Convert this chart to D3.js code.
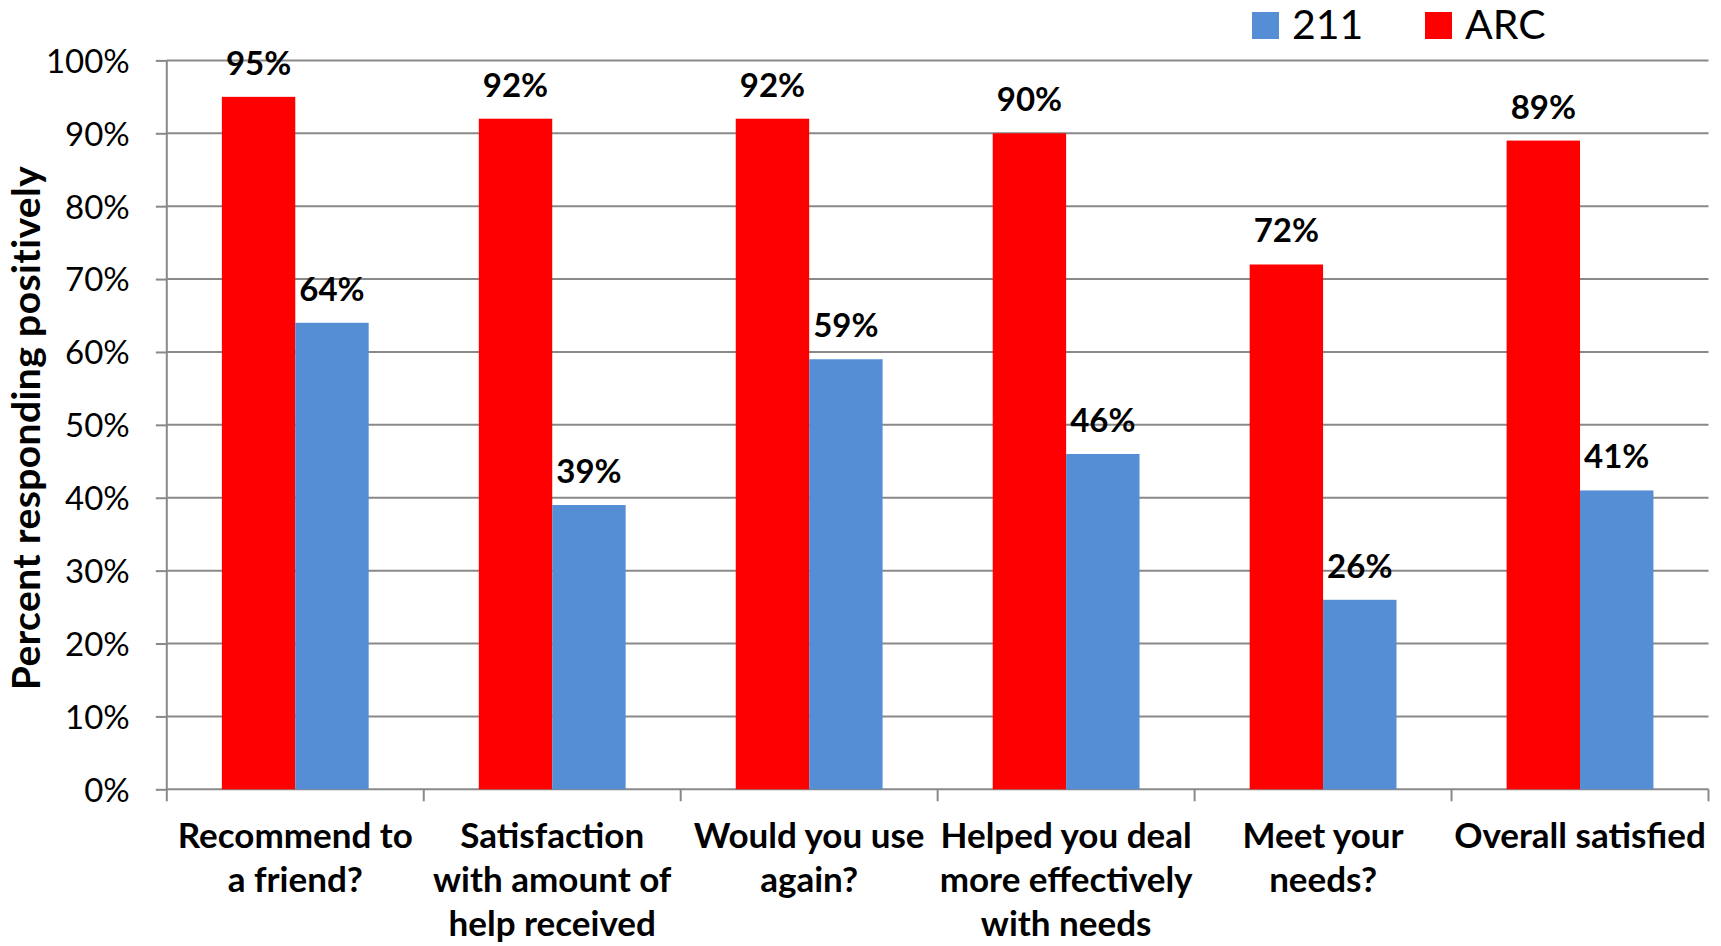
<!DOCTYPE html>
<html>
<head>
<meta charset="utf-8">
<script src="https://cdn.jsdelivr.net/npm/d3@7/dist/d3.min.js"></script>
<style>
  html, body { margin: 0; padding: 0; background: #fff; }
  svg { display: block; font-family: Lato, "Open Sans", sans-serif; }
</style>
</head>
<body>
<svg id="chart" width="1721" height="946"></svg>
<script>
// Survey questions (x categories); "\n" marks line breaks in the axis labels
const categories = [
  "Recommend to\na friend?",
  "Satisfaction\nwith amount of\nhelp received",
  "Would you use\nagain?",
  "Helped you deal\nmore effectively\nwith needs",
  "Meet your\nneeds?",
  "Overall satisfied"
];
const seriesNames = ["ARC", "211"];
const arcValues = [95, 92, 92, 90, 72, 89];
const values211 = [64, 39, 59, 46, 26, 41];
const yTicks = [0, 10, 20, 30, 40, 50, 60, 70, 80, 90, 100];
const legendOrder = ["211", "ARC"];
const colors = { "ARC": "#FF0000", "211": "#558ED5" };

const svg = d3.select("#chart");
const plotLeft = 166.8, plotRight = 1708.5, plotTop = 60.4, plotBottom = 789.3;
const gridColor = "#898989";

const x = d3.scaleBand().domain(d3.range(categories.length)).range([plotLeft, plotRight]).padding(0);
const xs = d3.scaleBand().domain(seriesNames).range([0, x.bandwidth()]).paddingInner(0).paddingOuter(0.75);
const y = d3.scaleLinear().domain([0, 100]).range([plotBottom, plotTop]);

// Horizontal gridlines
svg.append("g").selectAll("line").data(yTicks.filter(d => d > 0)).join("line")
  .attr("x1", plotLeft).attr("x2", plotRight)
  .attr("y1", d => y(d)).attr("y2", d => y(d))
  .attr("stroke", gridColor).attr("stroke-width", 2);

// Y axis
const yAxis = svg.append("g").attr("transform", `translate(${plotLeft},0)`)
  .call(d3.axisLeft(y).tickValues(yTicks).tickFormat(d => d + "%").tickSize(11).tickPadding(26));
yAxis.select(".domain").attr("stroke", gridColor).attr("stroke-width", 2)
  .attr("d", `M0,${plotTop}V${plotBottom}`);
yAxis.selectAll(".tick line").attr("stroke", gridColor).attr("stroke-width", 2);
yAxis.selectAll(".tick text").attr("fill", "#000").attr("font-size", 33)
  .attr("font-family", "Lato").attr("dy", "0.36em");

// X axis: tick marks on the category boundaries
const boundaries = d3.range(categories.length + 1).map(i => plotLeft + i * x.step());
const xAxisG = svg.append("g");
xAxisG.append("line").attr("x1", plotLeft).attr("x2", plotRight).attr("y1", plotBottom).attr("y2", plotBottom)
  .attr("stroke", gridColor).attr("stroke-width", 2);
xAxisG.selectAll("line.tk").data(boundaries).join("line").attr("class", "tk")
  .attr("x1", d => d).attr("x2", d => d).attr("y1", plotBottom).attr("y2", plotBottom + 12)
  .attr("stroke", gridColor).attr("stroke-width", 2);

// Bars
const rows = categories.map((c, i) => ({ i, ARC: arcValues[i], "211": values211[i] }));
const groups = svg.append("g").selectAll("g").data(rows).join("g")
  .attr("transform", d => `translate(${x(d.i)},0)`);
groups.selectAll("rect").data(d => seriesNames.map(s => ({ s, v: d[s] }))).join("rect")
  .attr("x", d => xs(d.s)).attr("width", xs.bandwidth())
  .attr("y", d => y(d.v)).attr("height", d => plotBottom - y(d.v))
  .attr("fill", d => colors[d.s]);

// Value labels above bars
groups.selectAll("text").data(d => seriesNames.map(s => ({ s, v: d[s] }))).join("text")
  .attr("x", d => xs(d.s) + xs.bandwidth() / 2)
  .attr("y", d => y(d.v) - 22)
  .attr("text-anchor", "middle").attr("font-weight", "bold").attr("font-size", 33)
  .text(d => d.v + "%");

// Category labels
const catLabels = svg.append("g").selectAll("text").data(categories).join("text")
  .attr("x", (d, i) => x(i) + x.bandwidth() / 2)
  .attr("y", 848)
  .attr("text-anchor", "middle").attr("font-weight", "bold").attr("font-size", 35);
catLabels.selectAll("tspan").data(d => d.split("\n")).join("tspan")
  .attr("x", function () { return this.parentNode.getAttribute("x"); })
  .attr("dy", (d, j) => j === 0 ? 0 : 44)
  .text(d => d);

// Y axis title
svg.append("text")
  .attr("transform", `translate(40,428) rotate(-90)`)
  .attr("text-anchor", "middle").attr("font-weight", "bold").attr("font-size", 39)
  .attr("letter-spacing", 0.4)
  .text("Percent responding positively");

// Legend
const legendX = [1252, 1425];
const legend = svg.append("g").selectAll("g").data(legendOrder).join("g")
  .attr("transform", (d, i) => `translate(${legendX[i]},12)`);
legend.append("rect").attr("width", 27).attr("height", 27).attr("fill", d => colors[d]);
legend.append("text").attr("x", 40).attr("y", 27).attr("font-size", 41).text(d => d);
</script>
</body>
</html>
